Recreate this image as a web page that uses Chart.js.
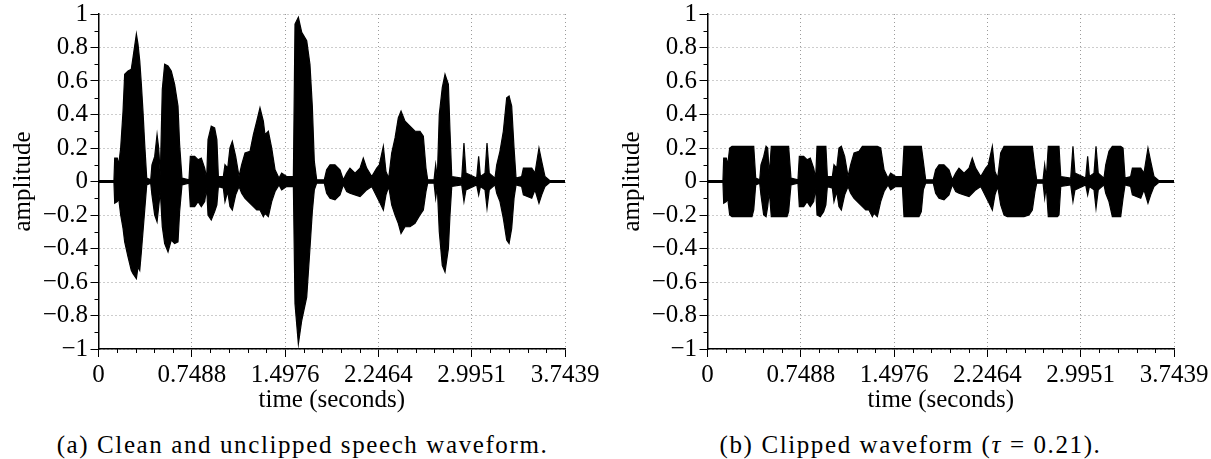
<!DOCTYPE html>
<html>
<head>
<meta charset="utf-8">
<script src="https://cdn.jsdelivr.net/npm/chart.js@4/dist/chart.umd.min.js"></script>
<style>
  body { margin: 0; background: #fff; width: 1211px; height: 459px; overflow: hidden; position: relative; }
  canvas { position: absolute; top: 0; }
  #waveA { left: 0; }
  #waveB { left: 609px; }
  .caption {
    position: absolute; top: 432px; width: 605px; text-align: center;
    font: 25px/25px 'Liberation Serif', 'DejaVu Serif', serif; color: #000;
    white-space: nowrap; letter-spacing: 1.6px;
  }
</style>
</head>
<body>
<canvas id="waveA" width="600" height="420"></canvas>
<canvas id="waveB" width="600" height="420"></canvas>
<div class="caption" style="left:0">(a) Clean and unclipped speech waveform.</div>
<div class="caption" style="left:608px">(b) Clipped waveform (<i>τ</i> = 0.21).</div>
<script>
// envelope of the speech signal (seconds / amplitude)
const times = [
  0, 0.124, 0.130, 0.151, 0.162, 0.178, 0.197, 0.210, 0.237, 0.263,
  0.277, 0.304, 0.317, 0.331, 0.344, 0.357, 0.371, 0.387, 0.419, 0.429,
  0.451, 0.470, 0.483, 0.496, 0.512, 0.531, 0.558, 0.584, 0.611, 0.638,
  0.651, 0.670, 0.726, 0.737, 0.772, 0.799, 0.825, 0.852, 0.868, 0.879,
  0.905, 0.932, 0.950, 0.962, 1.002, 1.015, 1.037, 1.055, 1.074, 1.101,
  1.128, 1.149, 1.176, 1.216, 1.243, 1.270, 1.296, 1.323, 1.336, 1.363,
  1.390, 1.417, 1.449, 1.470, 1.510, 1.564, 1.577, 1.604, 1.631, 1.671,
  1.697, 1.716, 1.732, 1.751, 1.812, 1.831, 1.858, 1.898, 1.938, 1.965,
  1.992, 2.018, 2.059, 2.099, 2.125, 2.152, 2.193, 2.233, 2.254, 2.286,
  2.307, 2.329, 2.353, 2.380, 2.406, 2.428, 2.460, 2.500, 2.540, 2.580,
  2.607, 2.628, 2.642, 2.693, 2.706, 2.719, 2.735, 2.759, 2.781, 2.808,
  2.821, 2.835, 2.915, 2.933, 2.949, 3.035, 3.051, 3.065, 3.102, 3.118,
  3.136, 3.182, 3.196, 3.222, 3.249, 3.276, 3.295, 3.316, 3.335, 3.351,
  3.396, 3.410, 3.477, 3.503, 3.535, 3.557, 3.583, 3.623, 3.7439
];
const upper = [
  0.005, 0.005, 0.14, 0.14, 0.10, 0.20, 0.42, 0.64, 0.66, 0.67,
  0.74, 0.88, 0.82, 0.72, 0.58, 0.42, 0.22, 0.02, 0.01, 0.10,
  0.15, 0.28, 0.20, 0.04, 0.55, 0.70, 0.69, 0.66, 0.58, 0.45,
  0.22, 0.02, 0.01, 0.15, 0.15, 0.13, 0.14, 0.08, 0.02, 0.25,
  0.33, 0.32, 0.25, 0.03, 0.03, 0.10, 0.08, 0.20, 0.24, 0.15,
  0.03, 0.10, 0.17, 0.18, 0.28, 0.36, 0.44, 0.36, 0.28, 0.30,
  0.20, 0.07, 0.02, 0.05, 0.03, 0.03, 0.94, 0.98, 0.89, 0.84,
  0.70, 0.45, 0.12, 0.01, 0.01, 0.07, 0.10, 0.10, 0.07, 0.01,
  0.05, 0.08, 0.05, 0.08, 0.14, 0.08, 0.03, 0.08, 0.10, 0.21,
  0.06, 0.02, 0.17, 0.26, 0.38, 0.42, 0.36, 0.33, 0.30, 0.30,
  0.27, 0.08, 0.01, 0.01, 0.10, 0.02, 0.40, 0.56, 0.64, 0.58,
  0.30, 0.03, 0.02, 0.23, 0.05, 0.02, 0.15, 0.03, 0.05, 0.23,
  0.05, 0.02, 0.10, 0.18, 0.30, 0.50, 0.51, 0.45, 0.20, 0.02,
  0.03, 0.08, 0.08, 0.05, 0.20, 0.12, 0.03, 0.005, 0.005
];
const lower = [
  -0.005, -0.005, -0.13, -0.12, -0.10, -0.20, -0.28, -0.36, -0.45, -0.53,
  -0.55, -0.58, -0.51, -0.53, -0.42, -0.30, -0.17, -0.02, -0.01, -0.08,
  -0.20, -0.24, -0.15, -0.06, -0.27, -0.37, -0.42, -0.35, -0.37, -0.36,
  -0.18, -0.02, -0.01, -0.15, -0.15, -0.12, -0.15, -0.12, -0.04, -0.20,
  -0.23, -0.18, -0.14, -0.03, -0.04, -0.12, -0.06, -0.15, -0.17, -0.08,
  -0.03, -0.07, -0.10, -0.13, -0.15, -0.17, -0.17, -0.21, -0.19, -0.21,
  -0.12, -0.06, -0.02, -0.05, -0.03, -0.03, -0.73, -0.97, -0.83, -0.69,
  -0.40, -0.18, -0.05, -0.01, -0.01, -0.07, -0.10, -0.11, -0.08, -0.02,
  -0.06, -0.07, -0.08, -0.09, -0.07, -0.05, -0.03, -0.09, -0.12, -0.17,
  -0.08, -0.03, -0.14, -0.20, -0.25, -0.31, -0.27, -0.27, -0.25, -0.20,
  -0.17, -0.06, -0.01, -0.01, -0.10, -0.03, -0.30, -0.50, -0.54, -0.40,
  -0.20, -0.03, -0.02, -0.12, -0.05, -0.02, -0.08, -0.03, -0.05, -0.16,
  -0.05, -0.02, -0.07, -0.12, -0.22, -0.35, -0.37, -0.28, -0.10, -0.02,
  -0.03, -0.08, -0.10, -0.05, -0.13, -0.08, -0.03, -0.005, -0.005
];
const tau = 0.21;

const xTicks = [0, 0.74878, 1.49756, 2.24637, 2.99512, 3.7439];
const xTickLabels = ['0', '0.7488', '1.4976', '2.2464', '2.9951', '3.7439'];
const yTicks = [-1, -0.8, -0.6, -0.4, -0.2, 0, 0.2, 0.4, 0.6, 0.8, 1];
const yTickLabels = ['\u22121', '\u22120.8', '\u22120.6', '\u22120.4', '\u22120.2', '0', '0.2', '0.4', '0.6', '0.8', '1'];

Chart.defaults.font.family = "'Liberation Serif', 'DejaVu Serif', serif";
Chart.defaults.color = '#000';

// short minor ticks: 5 per x interval, 2 per y interval
const minorTicks = {
  id: 'minorTicks',
  afterDraw(chart) {
    const { ctx, scales: { x, y } } = chart;
    ctx.save();
    ctx.strokeStyle = '#000';
    ctx.lineWidth = 1;
    ctx.beginPath();
    for (let i = 0; i < xTicks.length - 1; i++) {
      for (let k = 1; k < 5; k++) {
        const v = xTicks[i] + (xTicks[i + 1] - xTicks[i]) * k / 5;
        const px = Math.round(x.getPixelForValue(v)) + 0.5;
        ctx.moveTo(px, y.bottom);
        ctx.lineTo(px, y.bottom + 4);
      }
    }
    for (let i = 0; i < yTicks.length - 1; i++) {
      const v = (yTicks[i] + yTicks[i + 1]) / 2;
      const py = Math.round(y.getPixelForValue(v)) + 0.5;
      ctx.moveTo(x.left, py);
      ctx.lineTo(x.left - 4, py);
    }
    ctx.stroke();
    ctx.restore();
  }
};

function makeChart(id, up, lo) {
  const ctx = document.getElementById(id).getContext('2d');
  return new Chart(ctx, {
    type: 'line',
    data: {
      datasets: [
        {
          data: times.map((t, i) => ({ x: t, y: up[i] })),
          borderColor: '#000', backgroundColor: '#000',
          borderWidth: 1.2, pointRadius: 0, tension: 0,
          fill: '+1'
        },
        {
          data: times.map((t, i) => ({ x: t, y: lo[i] })),
          borderColor: '#000', backgroundColor: '#000',
          borderWidth: 1.2, pointRadius: 0, tension: 0,
          fill: false
        }
      ]
    },
    options: {
      responsive: false,
      animation: false,
      devicePixelRatio: 1,
      layout: { padding: { top: 14, right: 35, bottom: 0, left: 0 } },
      plugins: { legend: { display: false }, tooltip: { enabled: false } },
      scales: {
        x: {
          type: 'linear',
          min: 0, max: 3.7439,
          afterBuildTicks: s => { s.ticks = xTicks.map(v => ({ value: v })); },
          afterFit: s => { s.height = 71; s.paddingLeft = 0; s.paddingRight = 0; },
          ticks: {
            font: { size: 25, lineHeight: 1 },
            padding: 6,
            maxRotation: 0,
            autoSkip: false,
            callback: (v, i) => xTickLabels[i]
          },
          grid: {
            color: '#9a9a9a', lineWidth: 1,
            tickColor: '#000', tickLength: 8, tickBorderDash: []
          },
          border: { display: true, color: '#000', width: 1.5, dash: [1, 3] },
          title: {
            display: true, text: 'time (seconds)',
            font: { size: 25, lineHeight: 1.2 },
            padding: { top: 0, bottom: 5 }
          }
        },
        y: {
          min: -1, max: 1,
          afterBuildTicks: s => { s.ticks = yTicks.map(v => ({ value: v })); },
          afterFit: s => { s.width = 98.5; s.paddingTop = 0; s.paddingBottom = 0; },
          ticks: {
            font: { size: 25, lineHeight: 1 },
            padding: 2.5,
            autoSkip: false,
            callback: (v, i) => yTickLabels[i]
          },
          grid: {
            color: '#9a9a9a', lineWidth: 1,
            tickColor: '#000', tickLength: 8, tickBorderDash: []
          },
          border: { display: true, color: '#000', width: 1.5, dash: [1, 3] },
          title: {
            display: true, text: 'amplitude',
            font: { size: 25, lineHeight: 1.2 },
            padding: { top: 8, bottom: 0 }
          }
        }
      }
    },
    plugins: [minorTicks]
  });
}

makeChart('waveA', upper, lower);
makeChart('waveB',
  upper.map(v => Math.min(v, tau)),
  lower.map(v => Math.max(v, -tau)));
</script>
</body>
</html>
